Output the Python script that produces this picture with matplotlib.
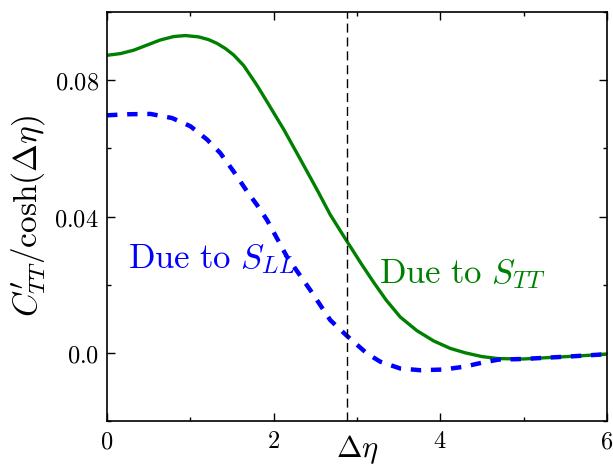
import matplotlib
matplotlib.use("Agg")
import matplotlib.pyplot as plt
from matplotlib.ticker import FixedLocator, FixedFormatter

plt.rcParams["mathtext.fontset"] = "cm"
plt.rcParams["lines.scale_dashes"] = False

# Correlation contributions versus rapidity gap
eta_tt = [0.0, 0.16, 0.32, 0.48, 0.64, 0.80, 0.94, 1.10, 1.22, 1.32, 1.42, 1.52,
          1.64, 1.80, 1.92, 2.12, 2.32, 2.52, 2.68, 2.87, 3.05, 3.20, 3.35, 3.52,
          3.72, 3.92, 4.12, 4.30, 4.50, 4.70, 5.00, 5.30, 5.60, 6.00]
c_tt = [0.0873, 0.0878, 0.0888, 0.0903, 0.0918, 0.0928, 0.0931, 0.0927, 0.0919,
        0.0908, 0.0893, 0.0874, 0.0843, 0.0785, 0.0737, 0.0656, 0.0568, 0.0479,
        0.0405, 0.0331, 0.0262, 0.0207, 0.0155, 0.0105, 0.0065, 0.0035, 0.0013,
        0.0000, -0.0011, -0.0017, -0.0018, -0.0014, -0.0010, -0.0004]

eta_ll = [0.0, 0.25, 0.52, 0.78, 1.00, 1.20, 1.36, 1.52, 1.68, 1.80, 1.92, 2.16,
          2.44, 2.68, 2.87, 3.12, 3.28, 3.52, 3.76, 4.04, 4.28, 4.52, 4.70, 5.00,
          5.30, 5.60, 6.00]
c_ll = [0.0697, 0.0700, 0.0701, 0.0689, 0.0665, 0.0626, 0.0586, 0.0532, 0.0474,
        0.0434, 0.0390, 0.0282, 0.0184, 0.0096, 0.0052, -0.0002, -0.0026, -0.0046,
        -0.0051, -0.0049, -0.0041, -0.0028, -0.0020, -0.0018, -0.0014, -0.0010,
        -0.0004]

eta_cut = 2.88

x_major = [0, 2, 4, 6]
x_labels = ["$0$", "$2$", "$4$", "$6$"]
x_minor = [1, 3, 5]
y_major = [0.0, 0.04, 0.08]
y_labels = ["$0.0$", "$0.04$", "$0.08$"]
y_minor = [-0.02, 0.02, 0.06, 0.10]

fig = plt.figure(figsize=(6.13, 4.66), dpi=100)
ax = fig.add_axes([0.1746, 0.0966, 0.8154, 0.8776])

ax.plot(eta_tt, c_tt, color="#008000", lw=2.4, solid_capstyle="butt")
ax.plot(eta_ll, c_ll, color="#0000ff", lw=3.2, dashes=(7.5, 7.0),
        dash_capstyle="butt")
ax.axvline(eta_cut, color="black", lw=1.0, dashes=(6.5, 3.5))

ax.text(0.25, 0.0249, r"$\mathrm{Due\ to}\ S_{LL}$", color="#0000ff", fontsize=25)
ax.text(3.27, 0.0205, r"$\mathrm{Due\ to}\ S_{TT}$", color="#008000", fontsize=25)

ax.set_xlim(0, 6)
ax.set_ylim(-0.02, 0.10)
ax.xaxis.set_major_locator(FixedLocator(x_major))
ax.xaxis.set_major_formatter(FixedFormatter(x_labels))
ax.xaxis.set_minor_locator(FixedLocator(x_minor))
ax.yaxis.set_major_locator(FixedLocator(y_major))
ax.yaxis.set_major_formatter(FixedFormatter(y_labels))
ax.yaxis.set_minor_locator(FixedLocator(y_minor))
ax.tick_params(which="both", direction="in", top=True, right=True,
               labelsize=17.5, pad=6)
ax.tick_params(which="major", length=6, width=1)
ax.tick_params(which="minor", length=3, width=1)
for s in ax.spines.values():
    s.set_linewidth(1.2)

ax.set_xlabel(r"$\Delta\eta$", fontsize=22)
ax.xaxis.set_label_coords(0.5, -0.03)
ax.set_ylabel(r"$C^{\prime}_{TT}/\cosh(\Delta\eta)$", fontsize=24)
ax.yaxis.set_label_coords(-0.118, 0.5)

fig.savefig("out.png", dpi=100, facecolor="white")
